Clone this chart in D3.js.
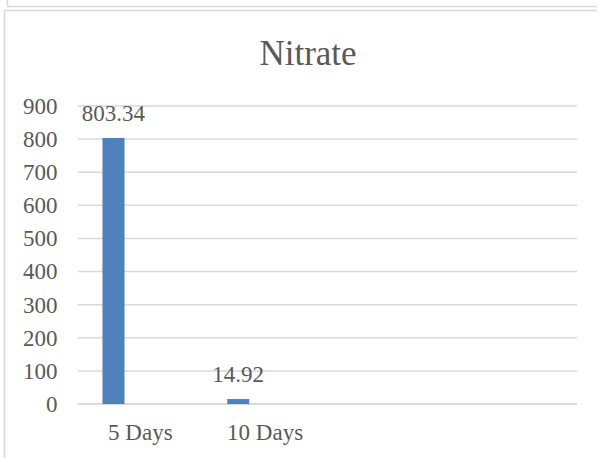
<!DOCTYPE html>
<html>
<head>
<meta charset="utf-8">
<script src="https://cdn.jsdelivr.net/npm/d3@7/dist/d3.min.js"></script>
<style>
  html,body{margin:0;padding:0;background:#fff;overflow:hidden;}
  svg{display:block;}
  svg text{font-family:"Liberation Serif","Tinos","DejaVu Serif",serif;}
</style>
</head>
<body>
<div id="chart"></div>
<script>
const categories=["5 Days","10 Days","",""];
const nitrate=[803.34,14.92,null,null];
const seriesSlots=["Nitrate","slot2","slot3"];
const yTicks=[0,100,200,300,400,500,600,700,800,900];

const w=597;
const h=458;
const plotLeft=78, plotRight=577, plotTop=106, plotBottom=404;
const textColor="#595959";
const gridColor="#d9d9d9";

const svg=d3.select("#chart").append("svg")
    .attr("width", w)
    .attr("height", h);

// frame of the chart above (only its bottom edge shows) and this chart's frame
svg.append("rect")
    .attr("x", 7.5).attr("y", -20)
    .attr("width", 640).attr("height", 26.5)
    .attr("fill", "none").attr("stroke", gridColor).attr("stroke-width", 1.5);
svg.append("rect")
    .attr("x", 4.5).attr("y", 10.5)
    .attr("width", 640).attr("height", 500)
    .attr("fill", "none").attr("stroke", gridColor).attr("stroke-width", 1.5);

const yScale=d3.scaleLinear().domain([0,900]).range([plotBottom, plotTop]);
const xScale=d3.scaleBand().domain(d3.range(categories.length)).range([plotLeft, plotRight]);
const x1=d3.scaleBand().domain(seriesSlots).range([0, xScale.bandwidth()])
    .paddingInner(0.18).paddingOuter(0.91);

// gridlines
svg.append("g").selectAll("line")
    .data(yTicks)
    .enter().append("line")
    .attr("x1", plotLeft).attr("x2", plotRight)
    .attr("y1", d=>yScale(d)).attr("y2", d=>yScale(d))
    .attr("stroke", gridColor)
    .attr("stroke-width", d=>d===0?2:1.5);

// y axis labels
const yAxis=d3.axisLeft(yScale).tickValues(yTicks).tickSize(0).tickPadding(0);
const yG=svg.append("g")
    .attr("transform", `translate(57.5,0)`)
    .call(yAxis)
    .attr("font-family", null)
    .attr("font-size", null);
yG.select(".domain").remove();
yG.selectAll("text")
    .attr("fill", textColor)
    .style("font-size", "23px");

// x axis labels
const xAxis=d3.axisBottom(xScale).tickFormat(i=>categories[i]).tickSize(0).tickPadding(0);
const xG=svg.append("g")
    .attr("transform", `translate(0,${plotBottom+20})`)
    .call(xAxis)
    .attr("font-family", null)
    .attr("font-size", null);
xG.select(".domain").remove();
xG.selectAll("text")
    .attr("fill", textColor)
    .style("font-size", "23px");

// bars
const barData=nitrate.map((v,i)=>({i:i, v:v})).filter(d=>d.v!==null);
svg.append("g").selectAll("rect")
    .data(barData)
    .enter().append("rect")
    .attr("x", d=>xScale(d.i)+x1("Nitrate"))
    .attr("width", x1.bandwidth())
    .attr("y", d=>yScale(d.v))
    .attr("height", d=>yScale(0)-yScale(d.v))
    .attr("fill", "#4f81bd");

// data labels
svg.append("g").selectAll("text")
    .data(barData)
    .enter().append("text")
    .text(d=>d.v.toFixed(2))
    .attr("x", d=>xScale(d.i)+x1("Nitrate")+x1.bandwidth()/2)
    .attr("y", d=>yScale(d.v)-17.5)
    .attr("text-anchor", "middle")
    .attr("fill", textColor)
    .style("font-size", "23px");

// title
svg.append("text")
    .text("Nitrate")
    .attr("x", 308)
    .attr("y", 65)
    .attr("text-anchor", "middle")
    .attr("fill", textColor)
    .style("font-size", "35px");
</script>
</body>
</html>
